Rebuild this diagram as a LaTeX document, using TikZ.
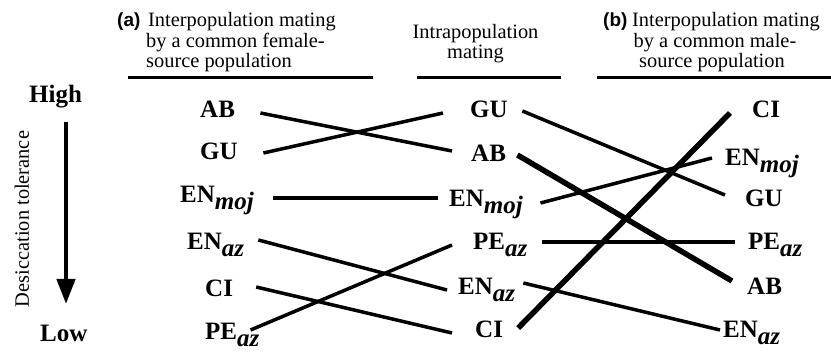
\documentclass[tikz,border=0pt]{standalone}
\usepackage{fontspec}
\setmainfont{Liberation Serif}
\setsansfont{Liberation Sans}
\usetikzlibrary{arrows.meta}
\newcommand\lblsub[2]{\textbf{#1}\raisebox{-7pt}{\textbf{\textit{#2}}}}
\begin{document}
\begin{tikzpicture}[x=1pt,y=-1pt,
  lab/.style={inner sep=0pt,anchor=base west,font=\fontsize{25}{30}\selectfont\bfseries},
  hdr/.style={inner sep=0pt,anchor=base west,font=\fontsize{20.4}{24}\selectfont},
  hdrc/.style={inner sep=0pt,anchor=base,font=\fontsize{20.4}{24}\selectfont},
  tag/.style={inner sep=0pt,anchor=base west,font=\fontsize{19}{24}\selectfont\sffamily\bfseries},
  ln/.style={line width=3.5pt},
  thk/.style={line width=5.5pt},
  rulez/.style={line width=2.5pt}]
\useasboundingbox (0,0) rectangle (831,352);

% headers
\node[tag] (ta) at (117,26.7) {(a)};
\node[hdr] (a1) at (148,26.7) {Interpopulation mating};
\node[hdr] (a2) at (146,47.7) {by a common female-};
\node[hdr] (a3) at (146,67.7) {source population};
\draw[rulez] (127.7,77.3) -- (373.3,77.3);

\node[hdrc] (m1) at (475.5,38.3) {Intrapopulation};
\node[hdrc] (m2) at (475.5,58.3) {mating};
\draw[rulez] (416.7,77.3) -- (560.7,77.3);

\node[tag] (tb) at (603,26.7) {(b)};
\node[hdr] (b1) at (632,26.7) {Interpopulation mating};
\node[hdrc] (b2) at (715,47.7) {by a common male-};
\node[hdrc] (b3) at (712,67.7) {source population};
\draw[rulez] (597,77.3) -- (831,77.3);

% axis
\node[lab] (high) at (29,103) {High};
\node[lab] (low) at (40,342) {Low};
\node[inner sep=0pt,rotate=90,font=\fontsize{20.4}{24}\selectfont] (dt) at (22,219) {Desiccation tolerance};
\coordinate (arrTop) at (66,122);
\coordinate (arrTip) at (66,304);
\draw[line width=4.5pt,-{Triangle[length=25pt,width=18pt]}] (arrTop) -- (arrTip);

% left column
\node[lab] (lAB) at (200,118) {AB};
\node[lab] (lGU) at (200,160) {GU};
\node[lab] (lENm) at (180,203) {\lblsub{EN}{moj}};
\node[lab] (lENa) at (187,250) {\lblsub{EN}{az}};
\node[lab] (lCI) at (205,297) {CI};
\node[lab] (lPE) at (205,340) {\lblsub{PE}{az}};

% middle column
\node[lab] (mGU) at (470,118) {GU};
\node[lab] (mAB) at (471,162) {AB};
\node[lab] (mENm) at (449,207) {\lblsub{EN}{moj}};
\node[lab] (mPE) at (473,250) {\lblsub{PE}{az}};
\node[lab] (mENa) at (458,295) {\lblsub{EN}{az}};
\node[lab] (mCI) at (475,338) {CI};

% right column
\node[lab] (rCI) at (752,118) {CI};
\node[lab] (rENm) at (725,166) {\lblsub{EN}{moj}};
\node[lab] (rGU) at (745,207) {GU};
\node[lab] (rPE) at (748,250) {\lblsub{PE}{az}};
\node[lab] (rAB) at (747,295) {AB};
\node[lab] (rENa) at (723,338) {\lblsub{EN}{az}};

% left connectors
\draw[ln] ([shift={(25.3,-5)}]lAB.base east) -- ([shift={(-19,-11)}]mAB.base west);
\draw[ln] ([shift={(25.5,-7)}]lGU.base east) -- ([shift={(-27,-5)}]mGU.base west);
\draw[ln] ([shift={(19.4,-5)}]lENm.base east) -- ([shift={(-11,-9)}]mENm.base west);
\draw[ln] ([shift={(14,-10)}]lENa.base east) -- ([shift={(-11,-5)}]mENa.base west);
\draw[ln] ([shift={(23,-10)}]lCI.base east) -- ([shift={(-23,-5)}]mCI.base west);
\draw[ln] ([shift={(-9,-10)}]lPE.base east) -- ([shift={(-21,-5)}]mPE.base west);

% right connectors
\draw[ln] ([shift={(14.5,-7)}]mGU.base east) -- ([shift={(-20,-12)}]rGU.base west);
\draw[thk] ([shift={(11.3,-7)}]mAB.base east) -- ([shift={(-15,-14)}]rAB.base west);
\draw[ln] ([shift={(17.4,-4)}]mENm.base east) -- ([shift={(-13,-8)}]rENm.base west);
\draw[ln] ([shift={(14.8,-8)}]mPE.base east) -- ([shift={(-13,-8)}]rPE.base west);
\draw[ln] ([shift={(8,-12)}]mENa.base east) -- ([shift={(-3,-8)}]rENa.base west);
\draw[thk] ([shift={(15,-10)}]mCI.base east) -- ([shift={(-22,-5)}]rCI.base west);
\end{tikzpicture}
\end{document}
